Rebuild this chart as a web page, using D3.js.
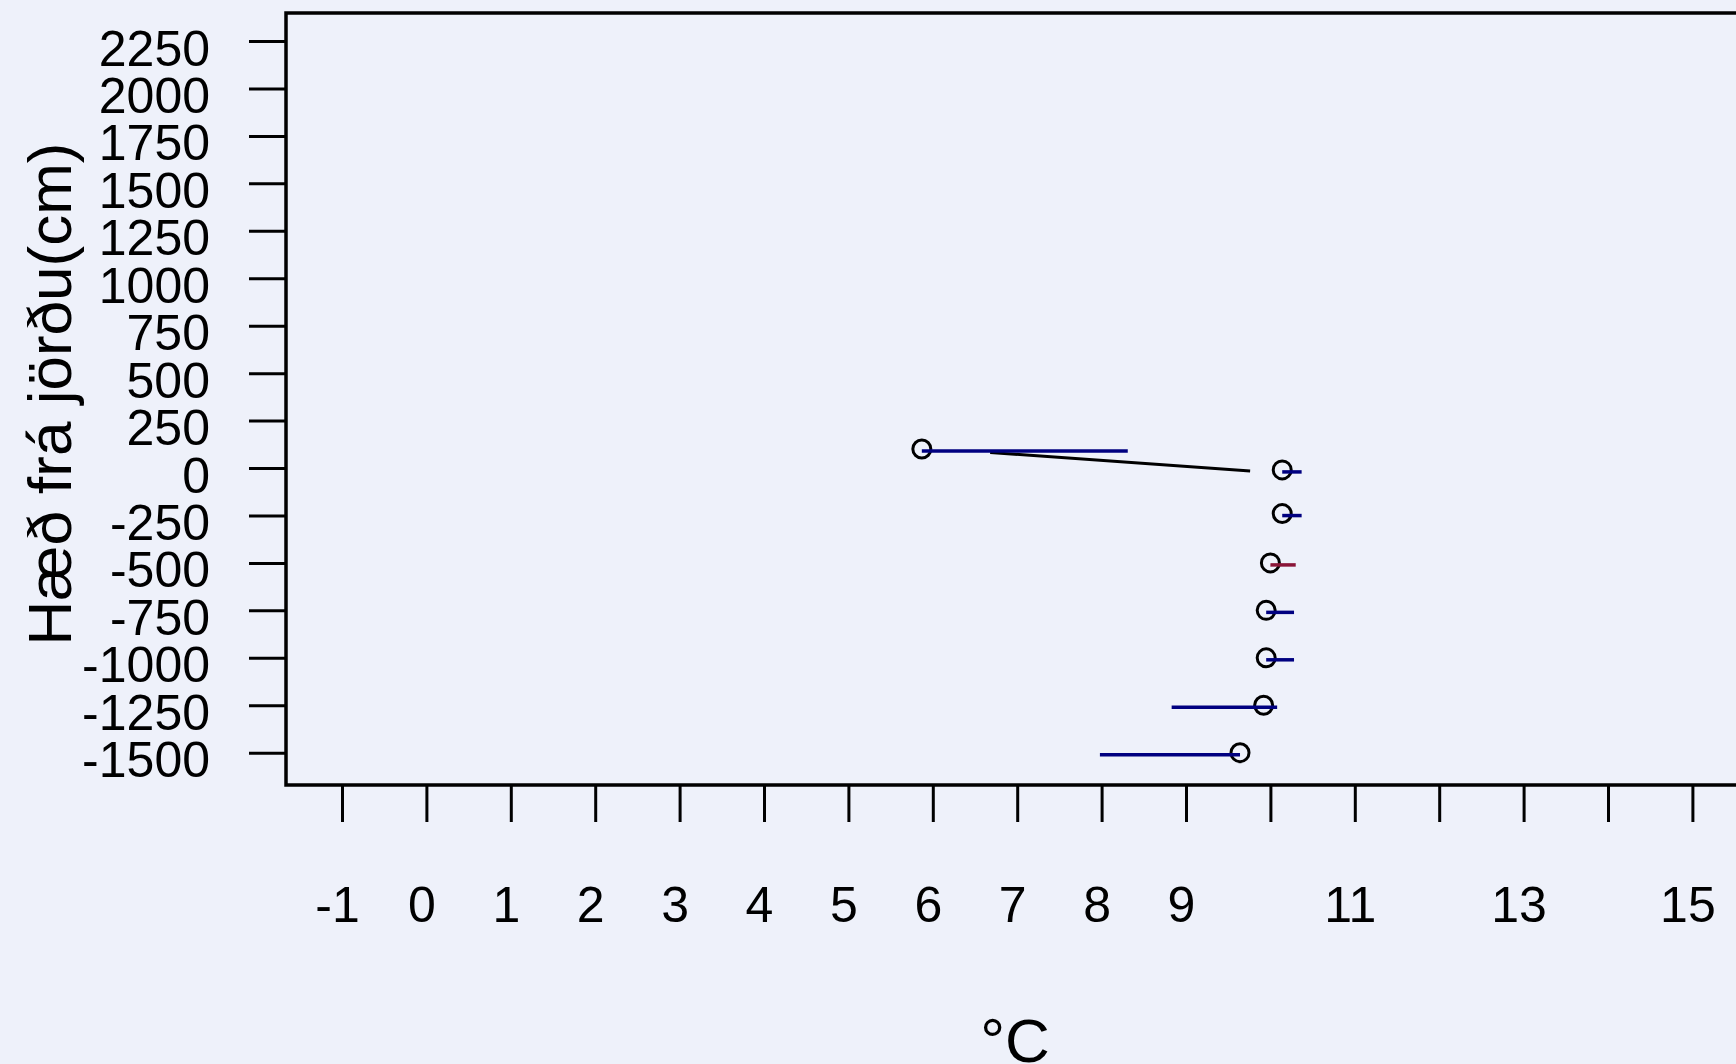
<!DOCTYPE html>
<html>
<head>
<meta charset="utf-8">
<script src="https://cdn.jsdelivr.net/npm/d3@7"></script>
<style>
  html, body { margin: 0; padding: 0; background: #eef1fa; overflow: hidden; }
  svg { display: block; }
  text { font-family: "Liberation Sans", Arial, sans-serif; fill: #000; }
</style>
</head>
<body>
<svg id="chart" width="1736" height="1064"></svg>
<script>
// ---- data ----
const heights   = [100, -10, -240, -500, -750, -1000, -1250, -1500];   // cm
const current   = [5.87, 10.14, 10.14, 10.0, 9.95, 9.95, 9.92, 9.64];  // °C (markers)
const rangeFrom = [5.87, 10.14, 10.14, 10.0, 9.95, 9.95, 8.83, 7.98];  // °C
const rangeTo   = [8.31, 10.37, 10.37, 10.30, 10.28, 10.28, 10.08, 9.64];
const seriesKind = ["blue", "blue", "blue", "red", "blue", "blue", "blue", "blue"];
const profileTemp   = [6.68, 9.76];
const profileHeight = [82, -16];
const yTicks = [-1500, -1250, -1000, -750, -500, -250, 0, 250, 500, 750, 1000, 1250, 1500, 1750, 2000, 2250];
const xTicks = [-1, 0, 1, 2, 3, 4, 5, 6, 7, 8, 9, 10, 11, 12, 13, 14, 15];
const xTickLabels = ["-1", "0", "1", "2", "3", "4", "5", "6", "7", "8", "9", "", "11", "", "13", "", "15"];
const yTitle = "Hæð frá jörðu(cm)";
const xTitle = "°C";

// ---- drawing ----
const svg = d3.select("#chart");
const W = 1736, H = 1064;
const box = { left: 286, top: 13, right: 1744, bottom: 785 };
const colors = { blue: "#000080", red: "#8a1538" };

svg.append("rect").attr("width", W).attr("height", H).attr("fill", "#eef1fa");

const x = d3.scaleLinear().domain([-1, 15]).range([342, 1692.4]);
const y = d3.scaleLinear().domain([-1500, 2250]).range([752.7, 41]);

// frame
svg.append("path")
  .attr("d", `M${box.right},${box.top}H${box.left}V${box.bottom}H${box.right}`)
  .attr("fill", "none").attr("stroke", "#000").attr("stroke-width", 3.5);

// y axis
const yAxis = d3.axisLeft(y).tickValues(yTicks).tickSize(37).tickPadding(39).tickFormat(d3.format("d"));
const gy = svg.append("g").attr("transform", `translate(${box.left},0)`).call(yAxis);
gy.select(".domain").remove();
gy.selectAll(".tick line").attr("stroke", "#000").attr("stroke-width", 3);
gy.selectAll(".tick text")
  .attr("font-size", 50).attr("font-family", "Liberation Sans, Arial, sans-serif")
  .attr("fill", "#000").attr("dy", 24).attr("text-anchor", "end")
  .text(d => d3.format("d")(d).replace("−", "-"));

// x axis
const xAxis = d3.axisBottom(x).tickValues(xTicks).tickSize(37).tickPadding(0)
  .tickFormat((d, i) => xTickLabels[i]);
const gx = svg.append("g").attr("transform", `translate(0,${box.bottom})`).call(xAxis);
gx.select(".domain").remove();
gx.selectAll(".tick line").attr("stroke", "#000").attr("stroke-width", 3);
gx.selectAll(".tick text")
  .attr("font-size", 50).attr("font-family", "Liberation Sans, Arial, sans-serif")
  .attr("fill", "#000").attr("y", 137).attr("dy", 0).attr("x", -5);

// axis titles
svg.append("text")
  .attr("transform", `translate(71,394) rotate(-90)`)
  .attr("text-anchor", "middle").attr("font-size", 62)
  .text(yTitle);
svg.append("text")
  .attr("x", 1015).attr("y", 1062)
  .attr("text-anchor", "middle").attr("font-size", 62)
  .text(xTitle);

// profile line (black)
const line = d3.line().x(d => x(d[0])).y(d => y(d[1]));
svg.append("path")
  .datum(profileTemp.map((t, i) => [t, profileHeight[i]]))
  .attr("d", line).attr("fill", "none").attr("stroke", "#000").attr("stroke-width", 3);

const rows = heights.map((h, i) => ({ h, c: current[i], a: rangeFrom[i], b: rangeTo[i], k: seriesKind[i] }));

// markers
svg.append("g").selectAll("circle").data(rows).join("circle")
  .attr("cx", d => x(d.c)).attr("cy", d => y(d.h)).attr("r", 9)
  .attr("fill", "none").attr("stroke", "#000").attr("stroke-width", 3);

// range segments
svg.append("g").selectAll("line").data(rows).join("line")
  .attr("x1", d => x(d.a)).attr("x2", d => x(d.b))
  .attr("y1", d => y(d.h) + 2).attr("y2", d => y(d.h) + 2)
  .attr("stroke", d => colors[d.k]).attr("stroke-width", 3.5);
</script>
</body>
</html>
